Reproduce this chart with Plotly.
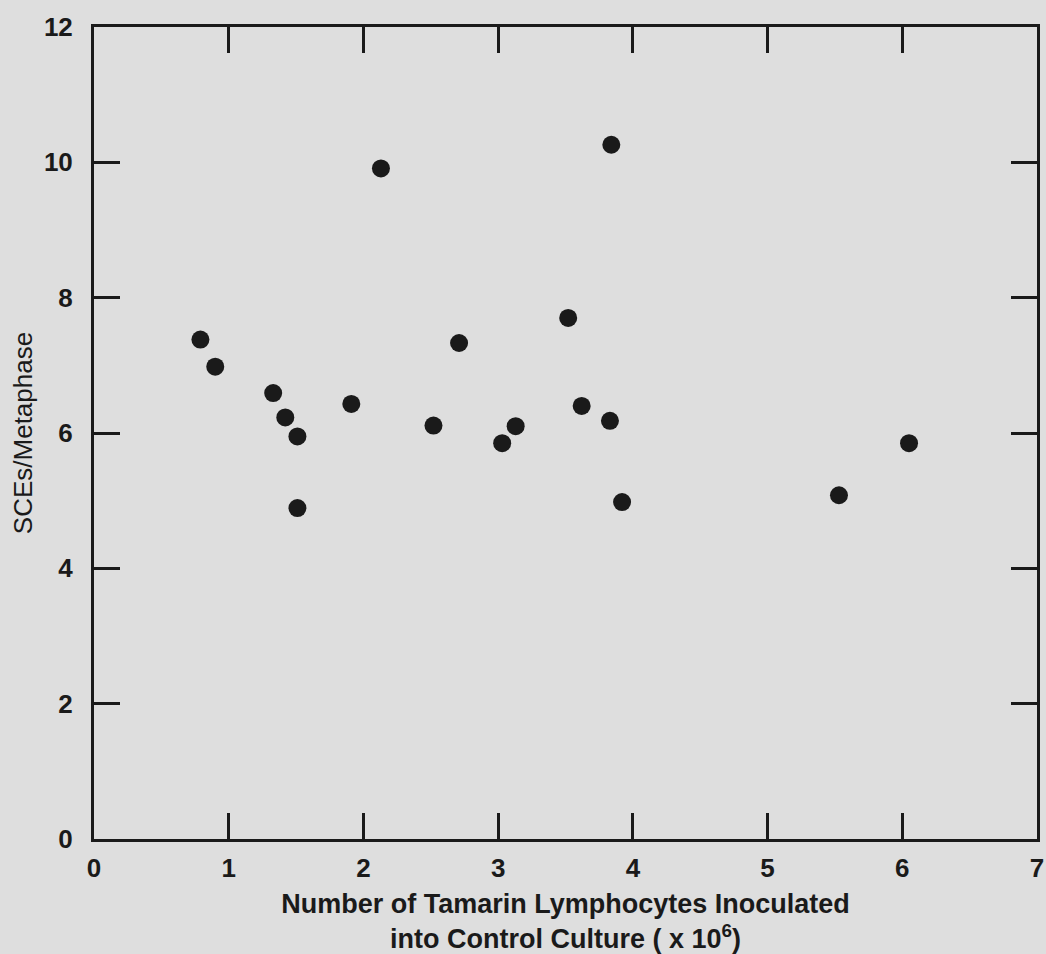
import plotly.graph_objects as go

# Data
cells_x10e6 = [0.79, 0.90, 1.33, 1.42, 1.51, 1.51, 1.91, 2.13, 2.52, 2.71,
               3.03, 3.13, 3.52, 3.62, 3.84, 3.83, 3.92, 5.53, 6.05]
sce_per_metaphase = [7.38, 6.98, 6.59, 6.23, 5.95, 4.89, 6.43, 9.91, 6.11, 7.33,
                     5.85, 6.10, 7.70, 6.40, 10.26, 6.18, 4.98, 5.08, 5.85]

x_ticks = [0, 1, 2, 3, 4, 5, 6, 7]
y_ticks = [0, 2, 4, 6, 8, 10, 12]

x_title = "Number of Tamarin Lymphocytes Inoculated<br>into Control Culture ( x 10<sup>6</sup>)"
y_title = "SCEs/Metaphase"

BG = "#dedede"
INK = "#1a1a1a"

fig = go.Figure(
    go.Scatter(
        x=cells_x10e6,
        y=sce_per_metaphase,
        mode="markers",
        marker=dict(size=18, color=INK, line=dict(width=0)),
        showlegend=False,
    )
)

axis_common = dict(
    showgrid=False,
    zeroline=False,
    showline=True,
    linecolor=INK,
    linewidth=3,
    mirror="ticks",
    ticks="inside",
    ticklen=26,
    tickwidth=2.5,
    tickcolor=INK,
    ticklabeloverflow="allow",
    tickfont=dict(family="Liberation Sans", size=26, color=INK),
)

fig.update_xaxes(
    range=[0, 7],
    tickvals=x_ticks,
    ticktext=[f"<b>{v}</b>" for v in x_ticks],
    ticklabelstandoff=4,
    title=dict(
        text=f"<b>{x_title}</b>",
        font=dict(family="Liberation Sans", size=27, color=INK),
        standoff=15,
    ),
    **axis_common,
)
fig.update_yaxes(
    range=[0, 12],
    tickvals=y_ticks,
    ticktext=[f"<b>{v}</b>" for v in y_ticks],
    ticklabelstandoff=13,
    title=dict(
        text=y_title,
        font=dict(family="Liberation Sans", size=26, color=INK),
        standoff=4,
    ),
    **axis_common,
)

fig.update_layout(
    width=1046,
    height=954,
    margin=dict(l=94, r=2, t=27, b=110),
    paper_bgcolor=BG,
    plot_bgcolor=BG,
)

fig.write_html(
    "out.html",
    config={"displayModeBar": False},
    post_script="document.body.style.margin='0';document.body.style.background='" + BG + "';",
)
